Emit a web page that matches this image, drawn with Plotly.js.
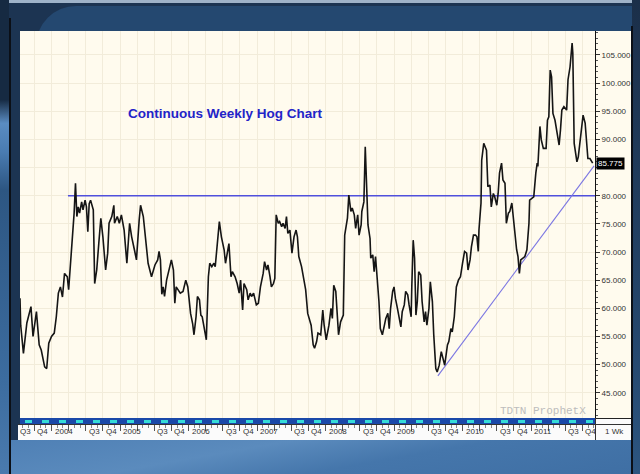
<!DOCTYPE html>
<html>
<head>
<meta charset="utf-8">
<script src="https://cdn.plot.ly/plotly-3.0.1.min.js"></script>
<style>
  html, body { margin:0; padding:0; }
  body { width:640px; height:474px; overflow:hidden; position:relative; background:#1c3452; font-family:"Liberation Sans", Arial, sans-serif; }
  .abs { position:absolute; }
  #topband { left:36px; top:6px; width:604px; height:40px; background:#244870; border-top-left-radius:46px; }
  #toplight { left:0; top:0; width:640px; height:3px; background:#9fb3c9; }
  #leftstrip { left:0; top:0; width:9px; height:474px;
    background:linear-gradient(to bottom,#162a42 0%,#162a42 21%,#5a8cc2 26%,#4a7cb2 32%,#2d5682 40%,#3c6c9f 80%,#4a7aae 100%); }
  #leftline { left:9px; top:18px; width:2px; height:456px; background:#0b0f16; }
  #rightstrip { left:632px; top:0; width:8px; height:474px; background:linear-gradient(to bottom,#1b2f49,#24466c 70%,#2c5580); }
  #rightline { left:631px; top:26px; width:2px; height:448px; background:#0b0f16; }
  #bottom { left:11px; top:440px; width:620px; height:34px;
    background:linear-gradient(170deg,#4f80b5 0%,#5b8bbd 35%,#4576ab 60%,#3f6fa4 100%); }
  #cream { left:20px; top:31px; width:611px; height:387px; background:#fffbee; }
  #strip { left:20px; top:418px; width:575px; height:6px;
    background:repeating-linear-gradient(90deg, transparent 0 5px, #35dcd8 5px 12px, transparent 12px 17px) 0 1.5px / 100% 3px no-repeat, #1a48a8; }
  #stripR { left:595px; top:418px; width:36px; height:6px; background:#fbfbfb; border-top:1px solid #222; box-sizing:border-box; }
  #labels { left:18px; top:424px; width:613px; height:16px; background:#fbfbfb; border-top:1px solid #333; box-sizing:border-box; }
  #sep { left:595px; top:418px; width:1px; height:22px; background:#333; }
  #chart { left:0; top:0; width:640px; height:474px; }
</style>
</head>
<body>
<div class="abs" id="toplight"></div>
<div class="abs" id="topband"></div>
<div class="abs" id="leftstrip"></div>
<div class="abs" id="leftline"></div>
<div class="abs" id="rightstrip"></div>
<div class="abs" id="rightline"></div>
<div class="abs" id="bottom"></div>
<div class="abs" id="cream"></div>
<div class="abs" id="strip"></div>
<div class="abs" id="stripR"></div>
<div class="abs" id="labels"></div>
<div class="abs" id="sep"></div>
<div class="abs" id="chart"></div>
<script>
// ---- data (decimal years, USD cents/lb) ----
const weeks = [
 2003.54,2003.55,2003.59,2003.64,2003.70,2003.73,2003.78,2003.82,2003.85,2003.90,2003.93,2003.96,
 2004.00,2004.04,2004.07,2004.10,2004.13,2004.16,2004.19,2004.23,2004.25,2004.29,2004.32,2004.33,
 2004.35,2004.37,2004.39,2004.41,2004.44,2004.46,2004.49,2004.51,2004.53,2004.55,2004.57,2004.61,
 2004.63,2004.66,2004.69,2004.72,2004.75,2004.79,2004.82,2004.84,2004.88,2004.91,2004.92,2004.96,
 2004.99,2005.02,2005.06,2005.10,2005.14,2005.17,2005.21,2005.24,2005.28,2005.30,2005.34,2005.37,
 2005.41,2005.46,2005.51,2005.55,2005.57,2005.59,2005.61,2005.63,2005.65,
 2005.68,2005.72,2005.75,2005.78,2005.80,2005.82,2005.85,2005.88,2005.92,2005.96,2005.99,
 2006.03,2006.06,2006.08,2006.11,2006.13,2006.16,2006.18,2006.20,2006.23,2006.26,2006.29,2006.31,
 2006.34,2006.37,2006.39,2006.42,2006.45,2006.48,2006.52,2006.54,2006.57,2006.59,2006.62,2006.64,
 2006.68,2006.71,2006.74,2006.76,2006.79,2006.81,2006.85,2006.87,2006.90,2006.92,2006.95,2006.99,
 2007.02,2007.05,2007.09,2007.11,2007.14,2007.16,2007.19,2007.21,2007.24,2007.26,2007.28,2007.31,
 2007.33,2007.36,2007.38,2007.41,2007.43,2007.45,2007.48,2007.51,2007.54,2007.57,2007.59,2007.61,
 2007.65,2007.68,2007.71,2007.74,2007.77,
 2007.79,2007.82,2007.84,2007.87,2007.89,2007.93,2007.96,2007.98,
 2008.01,2008.05,2008.08,2008.10,2008.12,2008.15,2008.17,2008.19,2008.22,2008.26,2008.28,2008.31,
 2008.32,2008.34,2008.37,2008.39,2008.42,2008.44,2008.47,2008.49,2008.52,2008.53,2008.56,2008.58,
 2008.60,2008.62,2008.65,2008.66,2008.69,2008.71,2008.73,2008.75,2008.78,2008.80,2008.83,2008.86,
 2008.88,2008.91,2008.93,2008.95,2008.98,
 2009.00,2009.02,2009.05,2009.07,2009.10,2009.12,2009.15,2009.17,2009.20,2009.22,2009.25,2009.26,
 2009.28,2009.30,2009.32,2009.34,2009.36,2009.39,2009.41,2009.44,2009.46,2009.48,2009.51,2009.53,
 2009.56,2009.58,2009.61,2009.63,2009.66,2009.69,2009.72,2009.74,2009.78,2009.80,2009.83,2009.85,
 2009.88,2009.91,2009.94,2009.97,
 2010.00,2010.03,2010.06,2010.08,2010.11,2010.13,2010.16,2010.19,2010.21,2010.23,2010.24,2010.27,
 2010.28,2010.31,2010.33,2010.35,2010.37,2010.40,2010.42,2010.45,2010.47,2010.50,2010.52,2010.54,
 2010.57,2010.59,2010.62,2010.64,2010.67,2010.69,2010.72,2010.74,2010.76,2010.79,2010.81,2010.83,
 2010.85,2010.88,2010.91,2010.94,2010.97,2010.98,
 2011.01,2011.04,2011.07,2011.09,2011.10,2011.13,2011.15,2011.18,2011.22,2011.24,2011.26,2011.28,
 2011.30,2011.32,2011.35,2011.37,2011.41,2011.43,2011.45,2011.48,2011.52,2011.54,2011.57,2011.60,
 2011.61,2011.63,2011.65,2011.67,2011.69,2011.71,2011.74,2011.76,2011.79,2011.81,2011.83,2011.86,
 2011.90
];
const hogPrice = [
 61.8,57.0,52.0,57.4,60.3,55.0,59.4,53.5,52.6,49.6,49.3,53.8,
 55.0,55.6,58.5,62.7,63.8,62.0,66.2,65.6,63.3,69.8,74.5,76.9,
 82.2,76.3,78.0,76.9,78.9,77.5,79.2,78.0,73.6,78.6,79.2,77.5,
 64.4,66.8,71.5,76.0,72.7,66.8,69.8,75.1,76.3,78.3,75.1,76.3,
 75.1,76.6,73.9,68.0,75.1,72.7,70.4,68.6,75.7,78.3,76.3,72.1,
 68.0,65.6,67.7,68.6,70.1,68.6,62.5,63.8,62.1,
 65.0,66.8,68.6,66.8,60.9,63.8,63.3,62.7,63.0,65.0,63.8,
 59.1,57.3,55.3,58.5,62.1,61.5,58.8,58.5,56.1,54.4,65.6,68.0,
 67.4,68.0,67.4,72.1,75.4,72.7,70.4,68.0,70.4,71.5,65.6,66.5,
 65.6,64.4,62.7,65.0,59.7,64.4,63.3,61.5,62.7,62.1,62.7,60.6,
 60.9,63.8,66.2,68.3,66.8,67.7,65.6,63.8,64.4,65.3,76.6,75.1,
 75.4,74.5,75.1,74.2,76.3,73.3,73.9,69.8,72.7,73.9,72.7,69.2,
 67.4,65.6,63.3,59.1,57.9,
 57.0,53.5,52.9,54.1,55.6,55.3,59.7,57.0,
 54.4,57.0,60.0,58.2,64.1,63.0,58.2,55.3,57.6,58.8,73.0,74.8,
 76.0,80.1,77.2,77.8,76.6,74.2,76.6,73.0,74.8,77.2,78.9,88.7,
 81.9,74.8,72.4,68.9,69.5,66.5,69.2,66.5,61.2,56.4,55.3,57.0,
 58.2,59.1,56.4,60.0,63.0,
 63.8,61.8,60.0,58.8,56.7,59.4,60.6,63.0,62.4,60.6,58.5,64.1,
 72.1,68.9,58.8,61.2,66.5,65.9,61.2,57.6,59.4,57.0,60.0,64.7,
 61.2,55.3,49.3,48.7,49.9,52.3,50.5,49.9,53.5,54.1,56.4,55.8,
 58.5,63.8,65.0,65.6,
 68.0,70.1,69.8,66.8,68.6,70.9,73.0,73.0,72.7,70.1,73.9,78.7,
 86.3,89.3,88.7,88.1,81.6,81.9,78.0,80.4,79.8,78.3,80.4,84.0,
 85.8,82.8,82.2,75.1,76.9,77.2,78.7,76.3,72.7,70.4,69.2,66.2,
 68.6,68.9,69.2,70.4,75.1,79.2,
 79.5,79.8,84.0,85.8,85.2,92.3,89.9,88.4,88.4,93.4,94.0,102.3,
 101.1,94.6,93.4,91.7,89.0,91.7,95.2,95.8,95.2,100.6,102.9,107.1,
 105.3,89.3,87.2,86.0,86.9,89.3,92.3,94.3,92.9,89.3,86.6,86.6,
 85.775
];
const resistanceDates = [2004.24, 2011.934];
const resistanceVals  = [80, 80];
const trendDates = [2009.64, 2011.92];
const trendVals  = [48.0, 85.3];
const lastValue = 85.775;
const titleText = "Continuous Weekly Hog Chart";
const tickText = ["Q3","Q4","2004","Q3","Q4","2005","Q3","Q4","2006","Q3","Q4","2007",
                  "Q3","Q4","2008","Q3","Q4","2009","Q3","Q4","2010","Q3","Q4","2011","Q3","Q4"];
const tickAt   = [2003.5,2003.75,2004,2004.5,2004.75,2005,2005.5,2005.75,2006,2006.5,2006.75,2007,
                  2007.5,2007.75,2008,2008.5,2008.75,2009,2009.5,2009.75,2010,2010.5,2010.75,2011,2011.5,2011.75];
const yTicks = [45,50,55,60,65,70,75,80,85,90,95,100,105];

// ---- chart ----
const X0 = 2003.54, X1 = 2011.934;
const quarterTicks = [];
for (let y = 2003.5; y <= X1; y += 0.25) quarterTicks.push(+y.toFixed(2));
const px = t => (t - X0) / (X1 - X0);
const labelFont = {family:'"Liberation Sans", Arial, sans-serif', size:8, color:'#333'};
// the last-value box covers the tick label it sits on
const yTickText = yTicks.map(v => Math.abs(v - lastValue) < 2.5 ? '' : v.toFixed(3));

const annotations = tickText.map((txt, i) => ({
  xref:'paper', yref:'paper', x:px(tickAt[i]), y:0, xanchor:'left', yanchor:'top',
  xshift:1, yshift:-1, text:txt, showarrow:false, font:labelFont
}));
annotations.push({
  xref:'paper', yref:'paper', x:0.1843, y:0.7913, xanchor:'left', yanchor:'middle',
  text:'<b>' + titleText + '</b>', showarrow:false,
  font:{family:'"Liberation Sans", Arial, sans-serif', size:13.5, color:'#2323c8'}
});
annotations.push({
  xref:'paper', yref:'y', x:1, y:lastValue, xanchor:'left', yanchor:'middle', xshift:1,
  text:lastValue.toFixed(3), showarrow:false, bgcolor:'#000', borderpad:1,
  font:{family:'"Liberation Sans", Arial, sans-serif', size:8, color:'#fff'}
});
annotations.push({
  xref:'paper', yref:'paper', x:0.988, y:0.0125, xanchor:'right', yanchor:'bottom',
  text:'TDTN ProphetX', showarrow:false,
  font:{family:'"Liberation Mono", "Courier New", monospace', size:11, color:'#bdbdbd'}
});
annotations.push({
  xref:'paper', yref:'paper', x:1, y:0, xanchor:'left', yanchor:'top', xshift:8, yshift:-1,
  text:'1 Wk', showarrow:false, font:labelFont
});

const traces = [
  {x:resistanceDates, y:resistanceVals, type:'scatter', mode:'lines',
   line:{color:'#5050dc', width:1.4}, hoverinfo:'skip'},
  {x:trendDates, y:trendVals, type:'scatter', mode:'lines',
   line:{color:'#7b76e2', width:1.1}, hoverinfo:'skip'},
  {x:weeks, y:hogPrice, type:'scatter', mode:'lines',
   line:{color:'#151515', width:1.6}, name:'Lean Hogs'}
];

const layout = {
  width:640, height:474,
  margin:{l:20, r:45, t:31, b:50, pad:0},
  paper_bgcolor:'rgba(0,0,0,0)', plot_bgcolor:'rgba(0,0,0,0)',
  showlegend:false,
  xaxis:{range:[X0, X1], anchor:'free', position:0, showline:false, zeroline:false,
    tickmode:'array', tickvals:quarterTicks, showticklabels:false,
    ticks:'outside', ticklen:6, tickcolor:'#555', tickwidth:1,
    showgrid:true, gridcolor:'#f2ecda', gridwidth:1,
    minor:{ticks:'outside', ticklen:3, tickcolor:'#888', tickmode:'linear', tick0:2004, dtick:1/12, showgrid:false},
    fixedrange:true},
  yaxis:{range:[40.52, 109.25], domain:[0.01527, 1], side:'right',
    showline:true, linecolor:'#111', linewidth:1,
    ticks:'outside', ticklen:4, tickcolor:'#333', tickwidth:1,
    tickmode:'array', tickvals:yTicks, ticktext:yTickText, tickfont:labelFont,
    showgrid:true, gridcolor:'#f2ecda', gridwidth:1, zeroline:false,
    minor:{ticks:'outside', ticklen:2, tickcolor:'#555', tickmode:'linear', tick0:0, dtick:1, showgrid:false},
    fixedrange:true},
  annotations:annotations
};

Plotly.newPlot('chart', traces, layout, {displayModeBar:false, staticPlot:true});
</script>
</body>
</html>
